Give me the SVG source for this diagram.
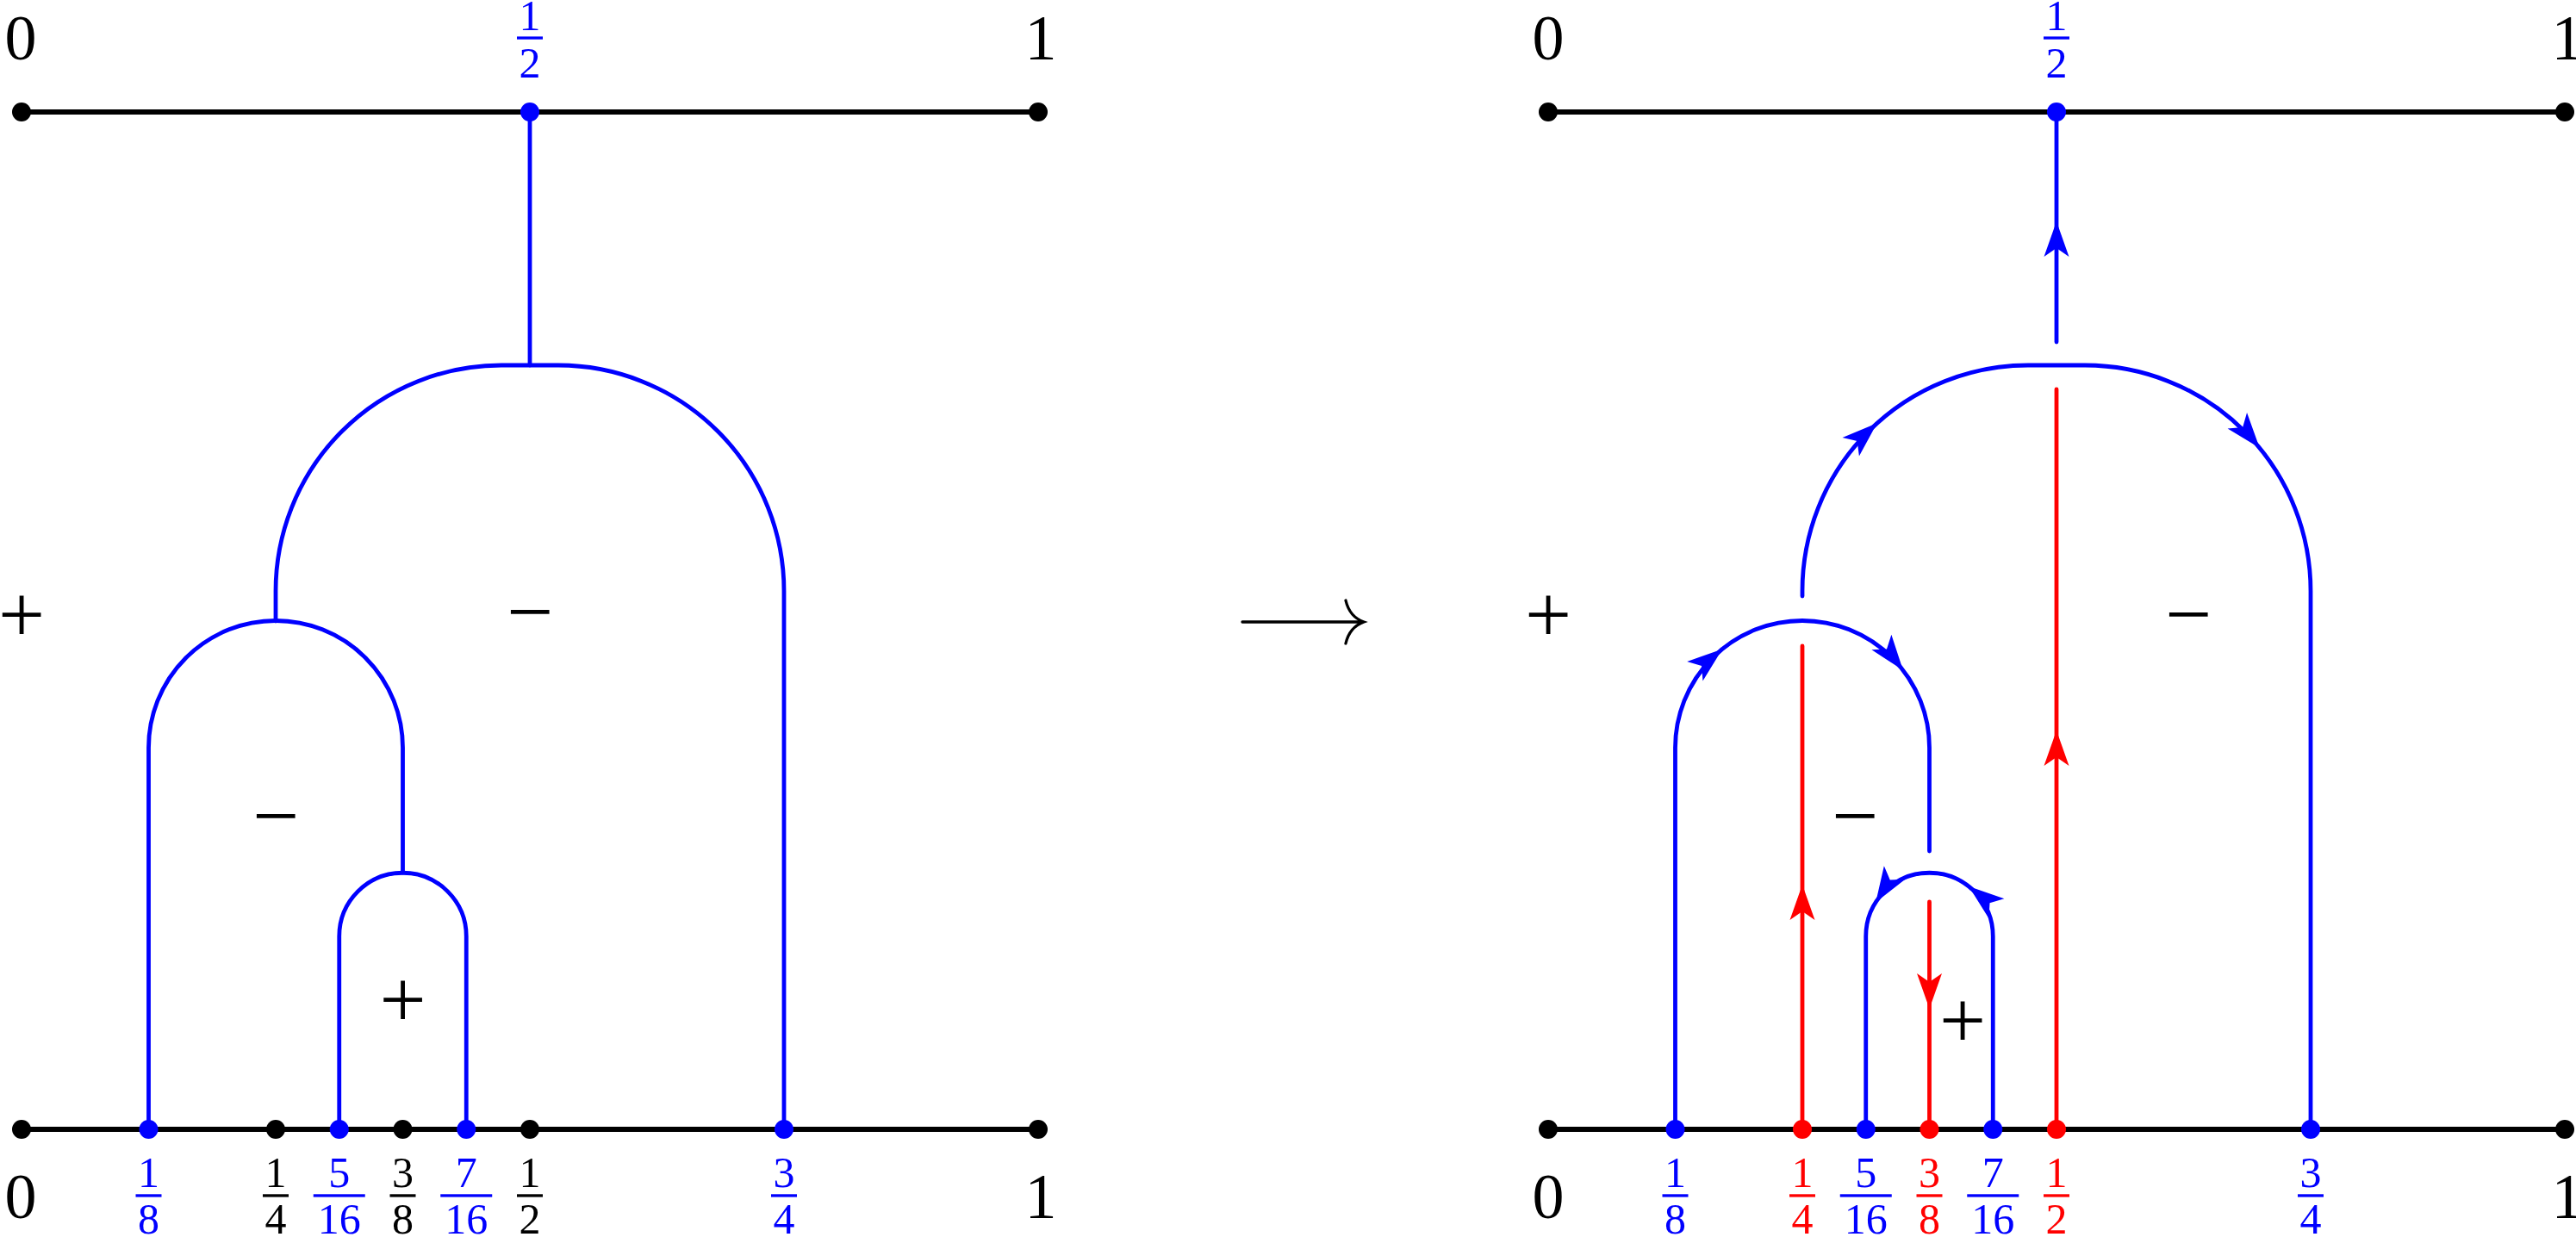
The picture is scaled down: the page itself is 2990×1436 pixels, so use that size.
<svg xmlns="http://www.w3.org/2000/svg" width="2990" height="1436" viewBox="0 0 2990 1436">
<style>
.k{stroke:#000;stroke-width:6;fill:none;stroke-linecap:round}
.b{stroke:#00f;stroke-width:4.8;fill:none;stroke-linecap:round}
.r{stroke:#f00;stroke-width:4.8;fill:none;stroke-linecap:round}
.t{font-family:"Liberation Serif","Times New Roman",serif;font-size:74px;text-anchor:middle}
.f{font-family:"Liberation Serif","Times New Roman",serif;font-size:50px;text-anchor:middle}
.s{font-family:"Liberation Serif","Times New Roman",serif;font-size:96px;text-anchor:middle}
.ab{fill:#00f}
.ar{fill:#f00}
</style>
<defs>
<path id="ah" d="M0,0 L-41,-14.5 L-31,0 L-41,14.5 Z"/>
</defs>
<rect width="2990" height="1436" fill="#fff"/>

<g id="connectors">
<!-- left diagram -->
<path class="k" d="M25,130 H1205"/>
<path class="k" d="M25,1311 H1205"/>
<path class="b" d="M615,130 V424"/>
<path class="b" d="M320,721 V686 A262,262 0 0 1 582,424 H648 A262,262 0 0 1 910,686 V1311"/>
<path class="b" d="M172.5,1311 V868 A147.5,147.5 0 0 1 467.5,868 V1013"/>
<path class="b" d="M393.75,1311 V1087 A73.75,73.75 0 0 1 541.25,1087 V1311"/>
<!-- transformation arrow -->
<path class="k" style="stroke-width:3.3" d="M1442,722 H1581 M1562,697 C1565,710 1572,718 1583,722 C1572,726 1565,734 1562,747"/>
<!-- right diagram -->
<path class="k" d="M1797,130 H2977"/>
<path class="k" d="M1797,1311 H2977"/>
<path class="b" d="M2387,130 V397"/>
<path class="b" d="M2092,692 V686 A262,262 0 0 1 2354,424 H2420 A262,262 0 0 1 2682,686 V1311"/>
<path class="b" d="M1944.5,1311 V868 A147.5,147.5 0 0 1 2239.5,868 V988"/>
<path class="b" d="M2165.75,1311 V1087 A73.75,73.75 0 0 1 2313.25,1087 V1311"/>
<path class="r" d="M2092,1311 V750"/>
<path class="r" d="M2239.5,1311 V1047"/>
<path class="r" d="M2387,1311 V452"/>
<!-- arrowheads -->
<use href="#ah" class="ab" transform="translate(2387,257) rotate(-90)"/>
<use href="#ah" class="ab" transform="translate(2178.7,491.3) rotate(-42)"/>
<use href="#ah" class="ab" transform="translate(2622.8,520) rotate(50.7)"/>
<use href="#ah" class="ab" transform="translate(1999.2,753.4) rotate(-39)"/>
<use href="#ah" class="ab" transform="translate(2208.9,778) rotate(52.4)"/>
<use href="#ah" class="ab" transform="translate(2177.2,1047.6) rotate(122.3)"/>
<use href="#ah" class="ab" transform="translate(2285.2,1029.1) rotate(218.3)"/>
<use href="#ah" class="ar" transform="translate(2092,1027) rotate(-90)"/>
<use href="#ah" class="ar" transform="translate(2387,848) rotate(-90)"/>
<use href="#ah" class="ar" transform="translate(2239.5,1171) rotate(90)"/>
</g>

<!-- region signs -->
<g id="signs-left">
<text class="s" x="25" y="745">+</text>
<text class="s" x="615" y="742">−</text>
<text class="s" x="320" y="979">−</text>
<text class="s" x="467.5" y="1192">+</text>
</g>
<g id="signs-right">
<text class="s" x="1797" y="745">+</text>
<text class="s" x="2540" y="745">−</text>
<text class="s" x="2153" y="979">−</text>
<text class="s" x="2278" y="1216">+</text>
</g>

<!-- left diagram nodes -->
<g id="L-top-0"><circle cx="25" cy="130" r="11"/><text class="t" x="24" y="69">0</text></g>
<g id="L-top-half" fill="#00f"><circle cx="615" cy="130" r="11"/><text class="f" x="615" y="35">1</text><rect x="600" y="42.4" width="30" height="3.3"/><text class="f" x="615" y="90">2</text></g>
<g id="L-top-1"><circle cx="1205" cy="130" r="11"/><text class="t" x="1208" y="69">1</text></g>

<g id="L-0"><circle cx="25" cy="1311" r="11"/><text class="t" x="24" y="1414">0</text></g>
<g id="L-1-8" fill="#00f"><circle cx="172.5" cy="1311" r="11"/><text class="f" x="172.5" y="1378">1</text><rect x="157.5" y="1386.3" width="30" height="3.3"/><text class="f" x="172.5" y="1432">8</text></g>
<g id="L-1-4"><circle cx="320" cy="1311" r="11"/><text class="f" x="320" y="1378">1</text><rect x="305" y="1386.3" width="30" height="3.3"/><text class="f" x="320" y="1432">4</text></g>
<g id="L-5-16" fill="#00f"><circle cx="393.75" cy="1311" r="11"/><text class="f" x="393.75" y="1378">5</text><rect x="363.75" y="1386.3" width="60" height="3.3"/><text class="f" x="393.75" y="1432">16</text></g>
<g id="L-3-8"><circle cx="467.5" cy="1311" r="11"/><text class="f" x="467.5" y="1378">3</text><rect x="452.5" y="1386.3" width="30" height="3.3"/><text class="f" x="467.5" y="1432">8</text></g>
<g id="L-7-16" fill="#00f"><circle cx="541.25" cy="1311" r="11"/><text class="f" x="541.25" y="1378">7</text><rect x="511.25" y="1386.3" width="60" height="3.3"/><text class="f" x="541.25" y="1432">16</text></g>
<g id="L-1-2"><circle cx="615" cy="1311" r="11"/><text class="f" x="615" y="1378">1</text><rect x="600" y="1386.3" width="30" height="3.3"/><text class="f" x="615" y="1432">2</text></g>
<g id="L-3-4" fill="#00f"><circle cx="910" cy="1311" r="11"/><text class="f" x="910" y="1378">3</text><rect x="895" y="1386.3" width="30" height="3.3"/><text class="f" x="910" y="1432">4</text></g>
<g id="L-1"><circle cx="1205" cy="1311" r="11"/><text class="t" x="1208" y="1414">1</text></g>

<!-- right diagram nodes -->
<g id="R-top-0"><circle cx="1797" cy="130" r="11"/><text class="t" x="1797" y="69">0</text></g>
<g id="R-top-half" fill="#00f"><circle cx="2387" cy="130" r="11"/><text class="f" x="2387" y="35">1</text><rect x="2372" y="42.4" width="30" height="3.3"/><text class="f" x="2387" y="90">2</text></g>
<g id="R-top-1"><circle cx="2977" cy="130" r="11"/><text class="t" x="2980" y="69">1</text></g>

<g id="R-0"><circle cx="1797" cy="1311" r="11"/><text class="t" x="1797" y="1414">0</text></g>
<g id="R-1-8" fill="#00f"><circle cx="1944.5" cy="1311" r="11"/><text class="f" x="1944.5" y="1378">1</text><rect x="1929.5" y="1386.3" width="30" height="3.3"/><text class="f" x="1944.5" y="1432">8</text></g>
<g id="R-1-4" fill="#f00"><circle cx="2092" cy="1311" r="11"/><text class="f" x="2092" y="1378">1</text><rect x="2077" y="1386.3" width="30" height="3.3"/><text class="f" x="2092" y="1432">4</text></g>
<g id="R-5-16" fill="#00f"><circle cx="2165.75" cy="1311" r="11"/><text class="f" x="2165.75" y="1378">5</text><rect x="2135.75" y="1386.3" width="60" height="3.3"/><text class="f" x="2165.75" y="1432">16</text></g>
<g id="R-3-8" fill="#f00"><circle cx="2239.5" cy="1311" r="11"/><text class="f" x="2239.5" y="1378">3</text><rect x="2224.5" y="1386.3" width="30" height="3.3"/><text class="f" x="2239.5" y="1432">8</text></g>
<g id="R-7-16" fill="#00f"><circle cx="2313.25" cy="1311" r="11"/><text class="f" x="2313.25" y="1378">7</text><rect x="2283.25" y="1386.3" width="60" height="3.3"/><text class="f" x="2313.25" y="1432">16</text></g>
<g id="R-1-2" fill="#f00"><circle cx="2387" cy="1311" r="11"/><text class="f" x="2387" y="1378">1</text><rect x="2372" y="1386.3" width="30" height="3.3"/><text class="f" x="2387" y="1432">2</text></g>
<g id="R-3-4" fill="#00f"><circle cx="2682" cy="1311" r="11"/><text class="f" x="2682" y="1378">3</text><rect x="2667" y="1386.3" width="30" height="3.3"/><text class="f" x="2682" y="1432">4</text></g>
<g id="R-1"><circle cx="2977" cy="1311" r="11"/><text class="t" x="2980" y="1414">1</text></g>
</svg>
